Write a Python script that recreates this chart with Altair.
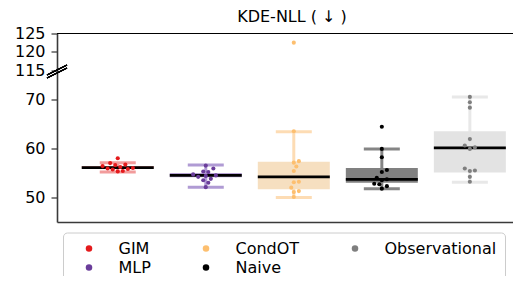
import altair as alt
import numpy as np
import pandas as pd

# ---------------- data ----------------
methods = ["GIM", "MLP", "CondOT", "Naive", "Observational"]
gim_vals = [58.0, 57.0, 56.7, 56.6, 56.4, 56.2, 56.0, 55.9, 55.8, 55.7, 55.4, 55.3]
mlp_vals = [56.5, 55.9, 55.3, 55.2, 54.7, 54.5, 54.4, 54.2, 53.8, 53.5, 53.0, 52.1]
condot_vals = [122.5, 63.5, 57.4, 57.1, 56.3, 55.4, 53.2, 53.1, 52.0, 51.3, 51.1, 50.1]
naive_vals = [64.4, 59.9, 58.2, 55.6, 55.2, 54.0, 53.7, 53.5, 52.8, 52.7, 52.3, 51.8]
obs_vals = [70.5, 69.4, 68.3, 61.9, 60.6, 60.2, 59.9, 55.9, 55.5, 55.4, 54.2, 53.2]

# box statistics as drawn
whisker_low = [55.2, 52.1, 50.0, 51.8, 53.1]
q1 = [55.9, 54.1, 51.7, 53.0, 55.1]
median = [56.1, 54.5, 54.2, 53.7, 60.1]
q3 = [56.4, 55.0, 57.3, 56.0, 63.5]
whisker_high = [57.1, 56.6, 63.4, 59.9, 70.5]

point_colors = ["#e41a1c", "#6a3d9a", "#fdbf6f", "#000000", "#7f7f7f"]
box_colors = ["#f3a9a9", "#b6a2d2", "#f6dfc0", "#808080", "#e3e3e3"]
whisker_colors = ["#f29c9c", "#b09bd4", "#fddcb4", "#858585", "#e8e8e8"]

y_ticks = [50, 60, 70, 115, 120, 125]
y_domain = [45, 75, 115, 125]          # broken axis: lower and upper panel
title_text = "KDE-NLL ( \u2193 )"

# ---------------- layout ----------------
W = 456
H = 188.5
y_range = [H, 41.3, 36.7, 0]
PX_PER_X = 90.0
x_domain = [-0.6333, -0.6333 + W / PX_PER_X]
FONT = "DejaVu Sans"

all_vals = [gim_vals, mlp_vals, condot_vals, naive_vals, obs_vals]


def y_px(v):
    return float(np.interp(v, y_domain, y_range))


def swarm(vals, d=4.7):
    """simple beeswarm: offsets in pixels so that dots do not overlap"""
    order = np.argsort(vals)
    placed = []
    offs = [0.0] * len(vals)
    step = d * 0.55
    for i in order:
        yp = y_px(vals[i])
        cands = [0.0]
        for k in range(1, 12):
            cands += [k * step, -k * step]
        for c in cands:
            if all((c - px) ** 2 + (yp - py) ** 2 >= d * d for px, py in placed):
                offs[i] = c
                placed.append((c, yp))
                break
    return offs


rows = []
for i, (m, vals) in enumerate(zip(methods, all_vals)):
    offs = swarm(vals)
    for v, o in zip(vals, offs):
        rows.append({"method": m, "x": i + o / PX_PER_X, "value": v})
points = pd.DataFrame(rows)

boxes = pd.DataFrame({
    "method": methods,
    "x": list(range(len(methods))),
    "wlo": whisker_low, "q1": q1, "med": median, "q3": q3, "whi": whisker_high,
    "bcol": box_colors, "wcol": whisker_colors,
})
caps = pd.concat([
    boxes[["method", "x", "wcol"]].assign(v=boxes["wlo"]),
    boxes[["method", "x", "wcol"]].assign(v=boxes["whi"]),
])

xenc = alt.X("x:Q", scale=alt.Scale(domain=x_domain, nice=False, zero=False), title=None)
yscale = alt.Scale(domain=y_domain, range=y_range, nice=False, zero=False)
yaxis = alt.Axis(values=y_ticks, tickCount=50, grid=False, labelOverlap=False)

whisk = alt.Chart(boxes).mark_rule(strokeWidth=3, opacity=1).encode(
    x=xenc,
    y=alt.Y("wlo:Q", scale=yscale, title=None, axis=yaxis),
    y2="whi:Q",
    color=alt.Color("wcol:N", scale=None),
)
cap = alt.Chart(caps).mark_tick(orient="horizontal", size=36, thickness=3,
                                opacity=1).encode(
    x=xenc, y=alt.Y("v:Q", scale=yscale, title=None, axis=yaxis),
    color=alt.Color("wcol:N", scale=None),
)
box = alt.Chart(boxes).mark_bar(size=72, orient="vertical", opacity=1).encode(
    x=xenc, y=alt.Y("q1:Q", scale=yscale, title=None, axis=yaxis), y2="q3:Q",
    color=alt.Color("bcol:N", scale=None),
)
med = alt.Chart(boxes).mark_tick(orient="horizontal", size=72, thickness=2.7,
                                 color="black", opacity=1).encode(
    x=xenc, y=alt.Y("med:Q", scale=yscale, title=None, axis=yaxis),
)
pts = alt.Chart(points).mark_circle(size=17, opacity=1).encode(
    x=xenc,
    y=alt.Y("value:Q", scale=yscale, title=None, axis=yaxis),
    color=alt.Color(
        "method:N",
        scale=alt.Scale(domain=methods, range=point_colors),
        legend=alt.Legend(
            orient="none", legendX=6, legendY=199, columns=3, title=None,
            symbolType="circle", symbolSize=42, symbolStrokeWidth=0,
            symbolOpacity=1, labelFontSize=16, labelFont=FONT,
            labelColor="black", columnPadding=37, rowPadding=3, padding=8,
            symbolOffset=10, labelOffset=21.5, strokeColor="#cccccc",
            fillColor="white", cornerRadius=4,
        ),
    ),
)
top_line = alt.Chart(boxes).mark_rule(color="black", strokeWidth=1.2).encode(
    y=alt.datum(125, scale=yscale)
)
brk1 = alt.Chart(boxes).mark_rule(color="black", strokeWidth=1.2).encode(
    x=alt.value(-10), x2=alt.value(10), y=alt.value(41.5), y2=alt.value(31.5)
)
brk2 = alt.Chart(boxes).mark_rule(color="black", strokeWidth=1.2).encode(
    x=alt.value(-10), x2=alt.value(10), y=alt.value(44.5), y2=alt.value(34.5)
)

chart = alt.layer(whisk, cap, box, med, pts, top_line, brk1, brk2).resolve_scale(
    color="independent"
).properties(
    width=W, height=H,
    title=alt.TitleParams(title_text, fontSize=16, font=FONT, fontWeight="normal",
                          color="black", anchor="middle", offset=1, dx=7),
    autosize=alt.AutoSizeParams(type="none"),
    padding={"left": 49, "top": 25.5, "right": 0, "bottom": 54},
).configure_view(strokeWidth=0, stroke="transparent").configure_axis(
    labelFont=FONT, labelFontSize=16, labelColor="black", tickColor="#333333",
    tickSize=6, tickWidth=1.2, labelPadding=6, domainColor="#3a3a3a",
    domainWidth=1.6, grid=False,
).configure_axisX(labels=False, ticks=False)

chart.save("out.html", embed_options={"renderer": "svg", "actions": False})
